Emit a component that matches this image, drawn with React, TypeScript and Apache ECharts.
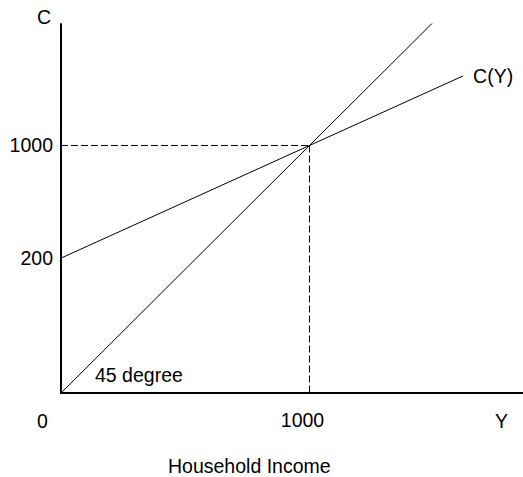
import React, { useEffect, useRef } from "react";
import * as echarts from "echarts";

// Schematic chart units (both axes share nearly one scale)
const line45: [number, number][] = [
  [0, 0],
  [1535, 1535],
];
const consumption: [number, number][] = [
  [0, 545],
  [1000, 1000],
  [1618, 1281],
];
const guideHorizontal: [number, number][] = [
  [0, 1000],
  [1000, 1000],
];
const guideVertical: [number, number][] = [
  [1000, 1000],
  [1000, 0],
];
const yTickValues = [545, 1000];
const yTickLabels = ["200", "1000"];
const xTickValues = [1000];
const xTickLabels = ["1000"];

const FONT = "'Liberation Sans', Arial, sans-serif";
const FS = 19.5;

export default function App() {
  const ref = useRef<HTMLDivElement>(null);
  useEffect(() => {
    if (!ref.current) return;
    const chart = echarts.init(ref.current, undefined, { renderer: "svg" });
    const lineStyle = { color: "#000", width: 1 };
    const dashStyle = { color: "#000", width: 1, type: [7, 3] as number[] };
    chart.setOption({
      animation: false,
      backgroundColor: "#fff",
      grid: { left: 61, top: 24, right: 0, bottom: 84, containLabel: false },
      xAxis: {
        type: "value",
        min: 0,
        max: 1859.2,
        axisLine: { show: true, onZero: false, lineStyle: { color: "#000", width: 2 } },
        axisTick: { show: false },
        splitLine: { show: false },
        axisLabel: {
          customValues: xTickValues,
          formatter: (v: number) => xTickLabels[xTickValues.indexOf(v)] ?? "",
          margin: 17,
          padding: [0, 14, 0, 0],
          color: "#000",
          fontSize: FS,
          fontFamily: FONT,
        },
      },
      yAxis: {
        type: "value",
        min: 0,
        max: 1490.9,
        axisLine: { show: true, onZero: false, lineStyle: { color: "#000", width: 2 } },
        axisTick: { show: false },
        splitLine: { show: false },
        axisLabel: {
          customValues: yTickValues,
          formatter: (v: number) => yTickLabels[yTickValues.indexOf(v)] ?? "",
          margin: 8,
          color: "#000",
          fontSize: FS,
          fontFamily: FONT,
        },
      },
      series: [
        {
          type: "line",
          data: guideHorizontal,
          symbol: "none",
          lineStyle: dashStyle,
          silent: true,
        },
        {
          type: "line",
          data: guideVertical,
          symbol: "none",
          lineStyle: dashStyle,
          silent: true,
        },
        {
          type: "line",
          data: line45,
          symbol: "none",
          lineStyle,
          silent: true,
        },
        {
          type: "line",
          data: consumption,
          symbol: "none",
          lineStyle,
          silent: true,
          endLabel: {
            show: true,
            formatter: "C(Y)",
            distance: 10,
            color: "#000",
            fontSize: FS,
            fontFamily: FONT,
          },
        },
      ],
      graphic: [
        {
          type: "text",
          left: 37,
          top: 7,
          style: { text: "C", fill: "#000", fontSize: FS, fontFamily: FONT },
        },
        {
          type: "text",
          left: 37,
          top: 411,
          style: { text: "0", fill: "#000", fontSize: FS, fontFamily: FONT },
        },
        {
          type: "text",
          left: 495,
          top: 411,
          style: { text: "Y", fill: "#000", fontSize: FS, fontFamily: FONT },
        },
        {
          type: "text",
          left: 95,
          top: 365,
          style: { text: "45 degree", fill: "#000", fontSize: FS, fontFamily: FONT },
        },
        {
          type: "text",
          left: 168,
          top: 456,
          style: { text: "Household Income", fill: "#000", fontSize: FS, fontFamily: FONT },
        },
      ],
    });
    return () => chart.dispose();
  }, []);
  return (
    <div
      ref={ref}
      style={{ position: "fixed", left: 0, top: 0, width: 523, height: 477, background: "#fff" }}
    />
  );
}
